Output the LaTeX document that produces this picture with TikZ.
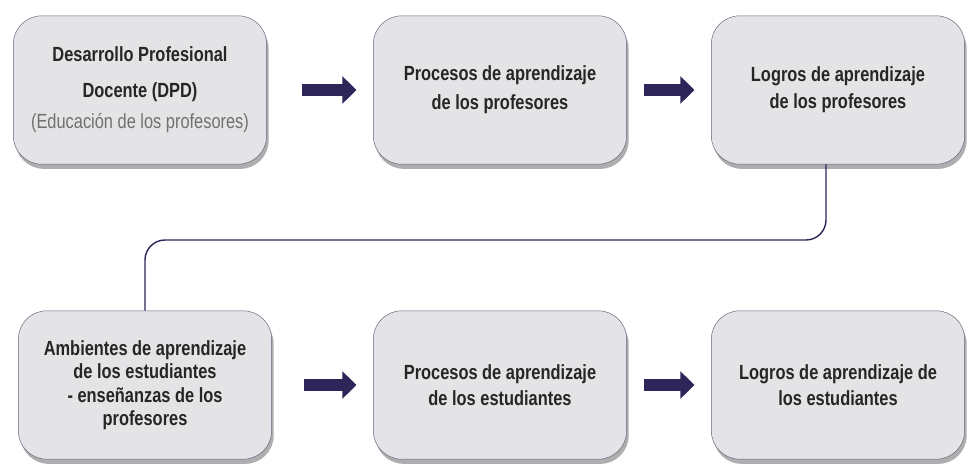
\documentclass[tikz,border=0pt]{standalone}
\usepackage{fontspec}
\newfontfamily\boxfont{Liberation Sans}[FakeStretch=0.8]
\usetikzlibrary{arrows.meta,shadows}

\definecolor{boxfill}{HTML}{E4E4E7}
\definecolor{boxline}{HTML}{66627C}
\definecolor{arrowink}{HTML}{2E2558}
\definecolor{textink}{HTML}{262626}
\definecolor{subink}{HTML}{707070}

\begin{document}
\begin{tikzpicture}[x=0.03cm,y=-0.03cm,
    stage/.style={rounded corners=0.85cm,draw=boxline,thin,fill=boxfill,
      minimum width=7.6cm,minimum height=4.45cm,align=center,text=textink,
      font=\boxfont\bfseries\fontsize{17.5}{20}\selectfont,
      drop shadow={shadow xshift=0.06cm,shadow yshift=-0.14cm,opacity=0.45,fill=black!70}},
    fatarrow/.style={-{Triangle[length=0.42cm,width=0.8cm]},line width=0.34cm,draw=arrowink},
    link/.style={draw=arrowink,line width=1.2pt,rounded corners=0.6cm}]
  \useasboundingbox[fill=white] (0,0) rectangle (967,467);

  % top row
  \node[stage] (dpd) at (140,90) {Desarrollo Profesional\\[10pt]Docente (DPD)\\[7pt]
    {\mdseries\color{subink}(Educación de los profesores)}};
  \node[stage] (procprof) at (500,90) {Procesos de aprendizaje\\[5pt]de los profesores};
  \node[stage] (logprof) at (838,90) {Logros de aprendizaje\\[3pt]de los profesores};

  % bottom row
  \node[stage] (ambiente) at (145,385) {Ambientes de aprendizaje\\de los estudiantes\\
    - enseñanzas de los\\profesores};
  \node[stage] (procest) at (500,385) {Procesos de aprendizaje\\[2pt]de los estudiantes};
  \node[stage] (logest) at (838,385) {Logros de aprendizaje de\\[2pt]los estudiantes};

  \coordinate (bend) at (500,240);

  \draw[fatarrow,shorten <=1.05cm,shorten >=0.5cm] (dpd) -- (procprof);
  \draw[fatarrow,shorten <=0.5cm,shorten >=0.5cm] (procprof) -- (logprof);
  \draw[fatarrow,shorten <=0.95cm,shorten >=0.5cm] (ambiente) -- (procest);
  \draw[fatarrow,shorten <=0.5cm,shorten >=0.5cm] (procest) -- (logest);

  \draw[link] ([xshift=-0.36cm]logprof.south) |- (bend) -| (ambiente.north);
\end{tikzpicture}
\end{document}
